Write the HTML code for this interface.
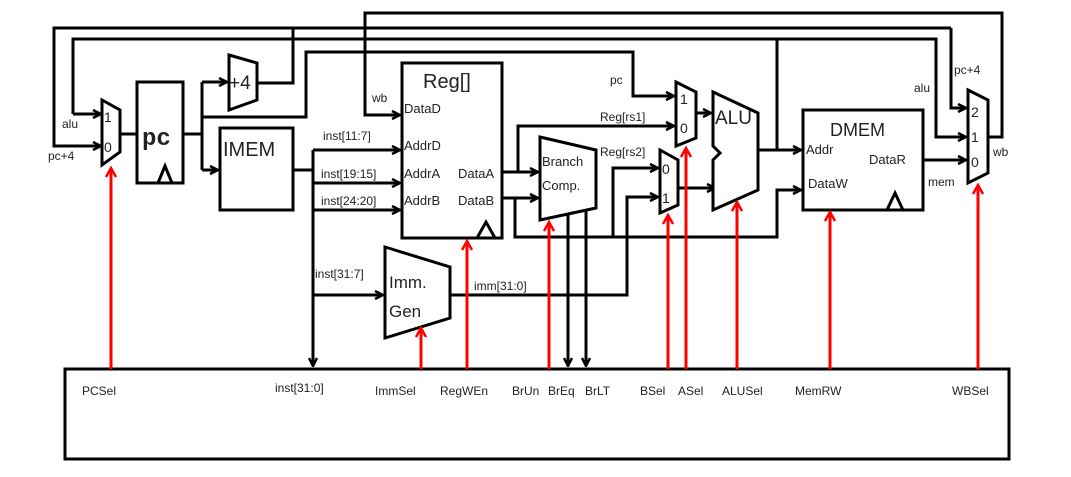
<!DOCTYPE html>
<html><head><meta charset="utf-8"><style>
html,body{margin:0;padding:0;background:#fff;}
svg{display:block;font-family:"Liberation Sans",sans-serif;}
</style></head><body>
<svg width="1071" height="477" viewBox="0 0 1071 477" xmlns="http://www.w3.org/2000/svg">
<defs>
<marker id="a" markerWidth="10" markerHeight="10" refX="9" refY="5" orient="auto" markerUnits="userSpaceOnUse"><path d="M1,1 L9,5 L1,9" fill="none" stroke="#000" stroke-width="2.5"/></marker>
<marker id="r" markerWidth="12" markerHeight="12" refX="10" refY="6" orient="auto" markerUnits="userSpaceOnUse"><path d="M1,1 L10,6 L1,11" fill="none" stroke="#f00" stroke-width="2.5"/></marker>
</defs>
<g fill="none" stroke="#000" stroke-width="3">
<!-- wb loop -->
<polyline points="988,137 1002,137 1002,13 365,13 365,115 400,115" marker-end="url(#a)"/>
<!-- pc+4 line -->
<polyline points="257,83 293,83 293,28"/>
<polyline points="951,28 54,28 54,146 101,146" marker-end="url(#a)"/>
<polyline points="951,28 951,108 966,108" marker-end="url(#a)"/>
<!-- alu line -->
<polyline points="73,114 73,39 936,39 936,137 966,137" marker-end="url(#a)"/>
<polyline points="73,114 101,114" marker-end="url(#a)"/>
<line x1="777" y1="39" x2="777" y2="150"/>
<!-- pc line -->
<polyline points="202,117 306,117 306,52 633,52 633,96 674,96" marker-end="url(#a)"/>
<!-- pc mux to pc -->
<line x1="120" y1="134" x2="137" y2="134"/>
<polyline points="183,134 202,134"/>
<polyline points="202,82 202,170"/>
<line x1="202" y1="82" x2="227" y2="82" marker-end="url(#a)"/>
<line x1="202" y1="170" x2="218" y2="170" marker-end="url(#a)"/>
<!-- IMEM out -->
<polyline points="293,170 313,170"/>
<polyline points="313,150 313,366" marker-end="url(#a)"/>
<line x1="313" y1="150" x2="400" y2="150" marker-end="url(#a)"/>
<line x1="313" y1="183" x2="400" y2="183" marker-end="url(#a)"/>
<line x1="313" y1="210" x2="400" y2="210" marker-end="url(#a)"/>
<line x1="313" y1="295" x2="383" y2="295" marker-end="url(#a)"/>
<!-- DataA / DataB -->
<line x1="502" y1="172" x2="538" y2="172" marker-end="url(#a)"/>
<polyline points="518,172 518,126 674,126" marker-end="url(#a)"/>
<line x1="502" y1="198" x2="538" y2="198" marker-end="url(#a)"/>
<polyline points="515,198 515,237 777,237 777,190 801,190" marker-end="url(#a)"/>
<polyline points="613,237 613,168 658,168" marker-end="url(#a)"/>
<!-- imm -->
<polyline points="450,295 627,295 627,197 658,197" marker-end="url(#a)"/>
<!-- mux outs -->
<line x1="696" y1="113" x2="711" y2="113" marker-end="url(#a)"/>
<line x1="678" y1="188" x2="715" y2="188" marker-end="url(#a)"/>
<line x1="758" y1="150" x2="801" y2="150" marker-end="url(#a)"/>
<line x1="923" y1="160" x2="966" y2="160" marker-end="url(#a)"/>
<!-- branch outputs -->
<line x1="568" y1="212" x2="568" y2="366" marker-end="url(#a)"/>
<line x1="586" y1="206" x2="586" y2="366" marker-end="url(#a)"/>
<!-- shapes -->
<polygon points="102,100 120,110 120,152 102,165" fill="#fff"/>
<rect x="137" y="82" width="46" height="101" fill="#fff"/>
<polyline points="158,183 165,166 172,183"/>
<polygon points="229,55 257,63 257,100 229,110" fill="#fff"/>
<rect x="220" y="128" width="73" height="82" fill="#fff"/>
<rect x="402" y="63" width="100" height="175" fill="#fff"/>
<polyline points="477,238 486,222 495,238"/>
<polygon points="540,137 596,150 596,208 540,220" fill="#fff"/>
<polygon points="660,150 678,160 678,205 660,213" fill="#fff"/>
<polygon points="676,82 696,92 696,138 676,146" fill="#fff"/>
<polygon points="713,92 758,113 758,190 713,210 713,160 720,153 713,146" fill="#fff"/>
<rect x="803" y="110" width="120" height="100" fill="#fff"/>
<polyline points="887,210 895,193 903,210"/>
<polygon points="968,90 988,100 988,173 968,183" fill="#fff"/>
<polygon points="385,247 450,267 450,318 385,338" fill="#fff"/>
<rect x="65" y="369" width="944" height="90" fill="#fff"/>
</g>
<g stroke="#f00" stroke-width="3" fill="none">
<line x1="111" y1="369" x2="111" y2="168" marker-end="url(#r)"/>
<line x1="421" y1="369" x2="421" y2="328" marker-end="url(#r)"/>
<line x1="467" y1="369" x2="467" y2="241" marker-end="url(#r)"/>
<line x1="549" y1="369" x2="549" y2="222" marker-end="url(#r)"/>
<line x1="668" y1="369" x2="668" y2="215" marker-end="url(#r)"/>
<line x1="686" y1="369" x2="686" y2="148" marker-end="url(#r)"/>
<line x1="737" y1="369" x2="737" y2="202" marker-end="url(#r)"/>
<line x1="830" y1="369" x2="830" y2="212" marker-end="url(#r)"/>
<line x1="978" y1="369" x2="978" y2="185" marker-end="url(#r)"/>
</g>
<g fill="#222" font-size="12">
<text x="62" y="128">alu</text>
<text x="48" y="160">pc+4</text>
<text x="104" y="122" font-size="14">1</text>
<text x="104" y="152" font-size="14">0</text>
<text x="142" y="145" font-family="Liberation Mono,monospace" font-weight="bold" font-size="24">pc</text>
<text x="229" y="89" font-size="19">+4</text>
<text x="223" y="156" font-size="20">IMEM</text>
<text x="423" y="88" font-size="20">Reg[]</text>
<text x="372" y="102">wb</text>
<text x="404" y="113" font-size="13">DataD</text>
<text x="404" y="150" font-size="13">AddrD</text>
<text x="404" y="178" font-size="13">AddrA</text>
<text x="404" y="205" font-size="13">AddrB</text>
<text x="458" y="178" font-size="13">DataA</text>
<text x="458" y="205" font-size="13">DataB</text>
<text x="323" y="140">inst[11:7]</text>
<text x="321" y="178">inst[19:15]</text>
<text x="321" y="205">inst[24:20]</text>
<text x="315" y="278">inst[31:7]</text>
<text x="389" y="288" font-size="17">Imm.</text>
<text x="389" y="317" font-size="17">Gen</text>
<text x="474" y="290">imm[31:0]</text>
<text x="542" y="166" font-size="13">Branch</text>
<text x="542" y="190" font-size="13">Comp.</text>
<text x="610" y="84">pc</text>
<text x="600" y="121">Reg[rs1]</text>
<text x="600" y="156">Reg[rs2]</text>
<text x="680" y="104" font-size="14">1</text>
<text x="680" y="133" font-size="14">0</text>
<text x="662" y="174" font-size="14">0</text>
<text x="662" y="203" font-size="14">1</text>
<text x="715" y="124" font-size="19">ALU</text>
<text x="830" y="136" font-size="18">DMEM</text>
<text x="806" y="154" font-size="13">Addr</text>
<text x="869" y="164" font-size="13">DataR</text>
<text x="808" y="188" font-size="13">DataW</text>
<text x="928" y="186">mem</text>
<text x="914" y="92">alu</text>
<text x="954" y="74">pc+4</text>
<text x="993" y="156">wb</text>
<text x="971" y="117" font-size="14">2</text>
<text x="971" y="142" font-size="14">1</text>
<text x="971" y="167" font-size="14">0</text>
<text x="82" y="395">PCSel</text>
<text x="275" y="392">inst[31:0]</text>
<text x="375" y="395">ImmSel</text>
<text x="440" y="395">RegWEn</text>
<text x="512" y="395">BrUn</text>
<text x="548" y="395">BrEq</text>
<text x="585" y="395">BrLT</text>
<text x="640" y="395">BSel</text>
<text x="678" y="395">ASel</text>
<text x="722" y="395">ALUSel</text>
<text x="795" y="395">MemRW</text>
<text x="952" y="395">WBSel</text>
</g>
</svg>
</body></html>
